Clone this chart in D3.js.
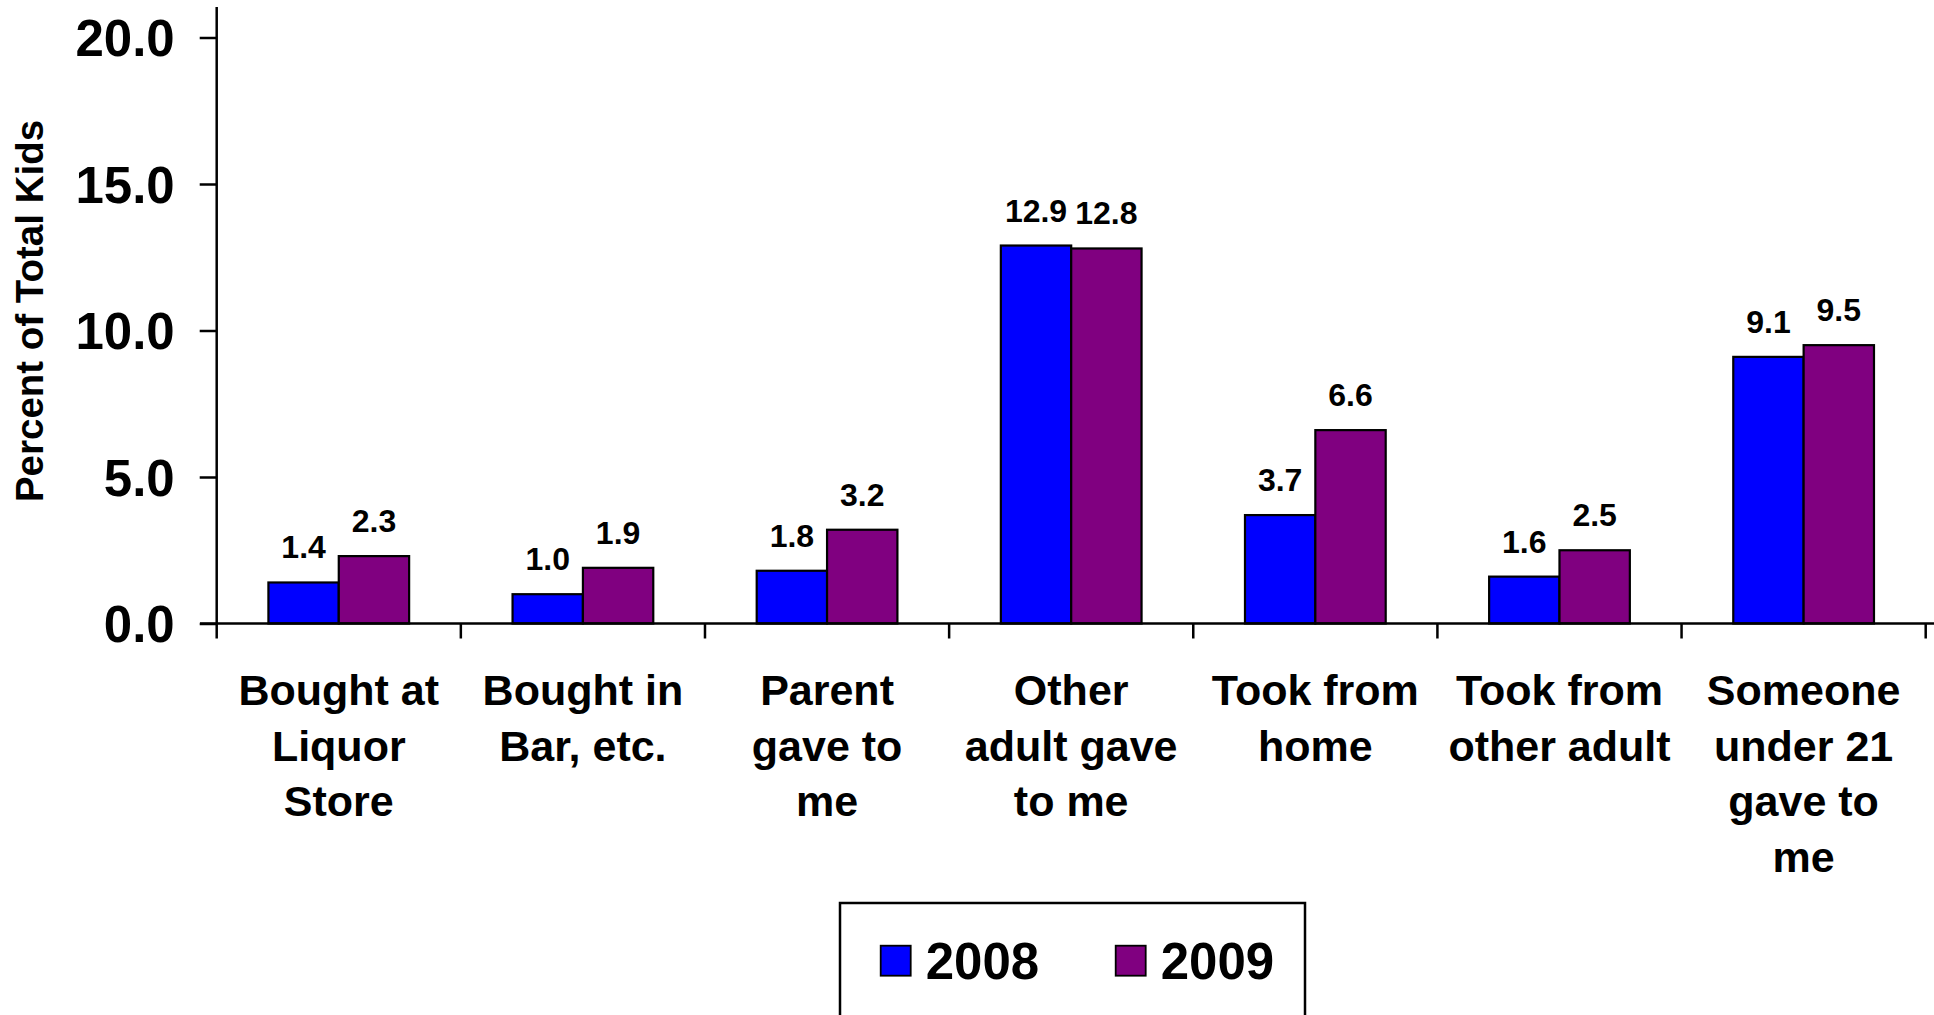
<!DOCTYPE html>
<html><head><meta charset="utf-8">
<script src="https://cdn.jsdelivr.net/npm/d3@7"></script>
<style>
html,body{margin:0;padding:0;background:#fff;overflow:hidden;}
text{font-family:"Liberation Sans",Arial,sans-serif;font-weight:bold;fill:#000;}
</style></head>
<body>
<svg id="chart" width="1934" height="1015"></svg>
<script>
const categories = [
  "Bought at\nLiquor\nStore",
  "Bought in\nBar, etc.",
  "Parent\ngave to\nme",
  "Other\nadult gave\nto me",
  "Took from\nhome",
  "Took from\nother adult",
  "Someone\nunder 21\ngave to\nme"
];
const series = ["2008", "2009"];
const values2008 = [1.4, 1.0, 1.8, 12.9, 3.7, 1.6, 9.1];
const values2009 = [2.3, 1.9, 3.2, 12.8, 6.6, 2.5, 9.5];
const yTicks = [0, 5, 10, 15, 20];
const colors = ["#0000FF", "#800080"];
const yTitle = "Percent of Total Kids";

const svg = d3.select("#chart");
const x0 = d3.scaleBand().domain(categories).range([216.7, 1925.7]).padding(0);
const x1 = d3.scaleBand().domain(series).range([0, x0.bandwidth()]).paddingInner(0).paddingOuter(0.735);
const y = d3.scaleLinear().domain([0, 20]).range([623.5, 37.5]);
const seriesVals = [values2008, values2009];

// Y axis
const yAxis = d3.axisLeft(y).tickValues(yTicks).tickFormat(d3.format(".1f")).tickSize(17).tickPadding(25);
const gy = svg.append("g").attr("transform", "translate(216.7,0)").call(yAxis);
gy.select(".domain").remove();
gy.append("line").attr("x1", 0).attr("x2", 0).attr("y1", 7).attr("y2", 638.5).attr("stroke", "#000").attr("stroke-width", 2.5);
gy.selectAll(".tick line").attr("stroke", "#000").attr("stroke-width", 2.5);
gy.selectAll(".tick text").attr("font-size", 51).attr("fill", "#000").attr("dy", "0.36em")
  .style("font-family", '"Liberation Sans",Arial,sans-serif').style("font-weight", "bold");

// Bars
const groups = svg.append("g").selectAll("g").data(categories).join("g")
  .attr("transform", d => `translate(${x0(d)},0)`);
groups.selectAll("rect").data((d, i) => series.map((s, j) => ({s, v: seriesVals[j][i], j})))
  .join("rect")
  .attr("x", d => x1(d.s)).attr("width", x1.bandwidth())
  .attr("y", d => y(d.v)).attr("height", d => y(0) - y(d.v))
  .attr("fill", d => colors[d.j]).attr("stroke", "#000").attr("stroke-width", 2.2);
groups.selectAll("text.val").data((d, i) => series.map((s, j) => ({s, v: seriesVals[j][i], j})))
  .join("text").attr("class", "val")
  .attr("x", d => x1(d.s) + x1.bandwidth() / 2).attr("y", d => y(d.v) - 24)
  .attr("text-anchor", "middle").attr("font-size", 32)
  .text(d => d3.format(".1f")(d.v));

// X axis
const xAxis = d3.axisBottom(x0).tickSize(0).tickFormat("");
const gx = svg.append("g").attr("transform", `translate(0,${y(0)})`).call(xAxis);
gx.select(".domain").remove();
gx.append("line").attr("x1", 200).attr("x2", 1934).attr("y1", 0).attr("y2", 0).attr("stroke", "#000").attr("stroke-width", 2.5);
const boundaries = categories.map(c => x0(c) + x0.bandwidth());
gx.selectAll("line.ct").data(boundaries).join("line").attr("class", "ct")
  .attr("x1", d => d).attr("x2", d => d).attr("y1", 0).attr("y2", 15)
  .attr("stroke", "#000").attr("stroke-width", 2.5);

// Category labels
const cl = svg.append("g").selectAll("text").data(categories).join("text")
  .attr("x", d => x0(d) + x0.bandwidth() / 2).attr("y", 705)
  .attr("text-anchor", "middle").attr("font-size", 43);
cl.each(function(d) {
  const t = d3.select(this);
  d.split("\n").forEach((line, i) => {
    t.append("tspan").attr("x", x0(d) + x0.bandwidth() / 2).attr("y", 705 + i * 55.5).text(line);
  });
});

// Y title
svg.append("text").attr("transform", "translate(43,311) rotate(-90)")
  .attr("text-anchor", "middle").attr("font-size", 38.5).text(yTitle);

// Legend
const lg = svg.append("g");
lg.append("rect").attr("x", 840).attr("y", 903).attr("width", 465).attr("height", 140)
  .attr("fill", "#fff").attr("stroke", "#000").attr("stroke-width", 2.5);
const lx = [880.7, 1115.7];
series.forEach((s, j) => {
  lg.append("rect").attr("x", lx[j]).attr("y", 945.7).attr("width", 30).attr("height", 30)
    .attr("fill", colors[j]).attr("stroke", "#000").attr("stroke-width", 1.8);
  lg.append("text").attr("x", lx[j] + 45).attr("y", 979).attr("font-size", 51).text(s);
});
</script>
</body></html>
